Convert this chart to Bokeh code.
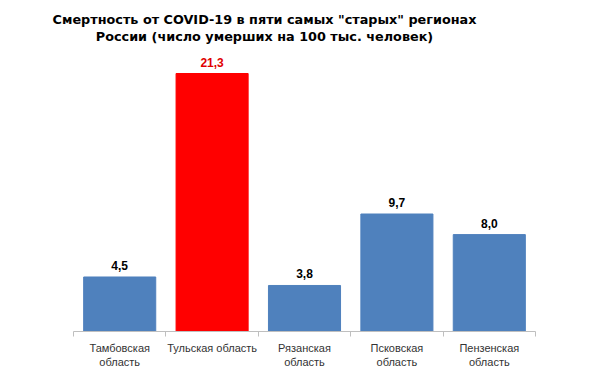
import numpy as np
from bokeh.plotting import figure
from bokeh.models import Range1d, FixedTicker, ColumnDataSource, Label, LinearAxis
from bokeh.core.properties import value
from bokeh.embed import file_html
from bokeh.resources import INLINE

categories = ["Тамбовская\nобласть", "Тульская область", "Рязанская\nобласть",
              "Псковская\nобласть", "Пензенская\nобласть"]
values = [4.5, 21.3, 3.8, 9.7, 8.0]
colors = ["#4f81bd", "#ff0000", "#4f81bd", "#4f81bd", "#4f81bd"]
label_colors = ["#000000", "#e00000", "#000000", "#000000", "#000000"]
title_lines = ['Смертность от COVID-19 в пяти самых "старых" регионах',
               'России (число умерших на 100 тыс. человек)']

n = len(categories)
xc = np.arange(n) + 0.5
labels = [f"{v:.1f}".replace(".", ",") for v in values]

src = ColumnDataSource(dict(x=xc, top=values, color=colors, lab=labels, lcolor=label_colors))

FRAME_H = 331
LEFT_PAD = 73
AXIS_W = 462
p = figure(width=612, height=378, output_backend="svg", toolbar_location=None,
           x_range=Range1d(-LEFT_PAD * n / AXIS_W, n), y_range=Range1d(0, 21.3 * FRAME_H / 258),
           min_border_left=0, min_border_right=612 - LEFT_PAD - AXIS_W, min_border_top=0,
           min_border_bottom=47, x_axis_type=None, y_axis_type=None)
p.outline_line_color = None
p.grid.visible = False
p.background_fill_color = "white"
p.border_fill_color = "white"

p.vbar(x="x", top="top", width=0.78, bottom=0, color="color", source=src)
p.text(x="x", y="top", text="lab", text_color="lcolor", source=src,
       text_align="center", text_baseline="bottom", y_offset=-7,
       text_font=value("Liberation Sans"), text_font_style="bold", text_font_size="12px")

ax = LinearAxis(ticker=FixedTicker(ticks=list(xc), minor_ticks=list(range(n + 1))),
                bounds=(0, n))
ax.major_label_overrides = {float(x): c for x, c in zip(xc, categories)}
ax.axis_line_color = "#bfbfbf"
ax.major_tick_line_color = None
ax.major_tick_out = 0
ax.major_tick_in = 0
ax.minor_tick_line_color = "#bfbfbf"
ax.minor_tick_out = 5
ax.minor_tick_in = 0
ax.major_label_standoff = 5
ax.major_label_text_font = "Liberation Sans"
ax.major_label_text_font_size = "11px"
ax.major_label_text_color = "#333333"
ax.major_label_text_line_height = 1.2
p.add_layout(ax, "below")

for i, t in enumerate(title_lines):
    p.add_layout(Label(x=264, y=FRAME_H - 19 - 17 * i, x_units="screen", y_units="screen", text=t,
                       text_align="center", text_baseline="alphabetic",
                       text_font="DejaVu Sans", text_font_style="bold",
                       text_font_size="12.8px", text_color="#000000"))

open("out.html", "w").write(file_html(p, INLINE))
